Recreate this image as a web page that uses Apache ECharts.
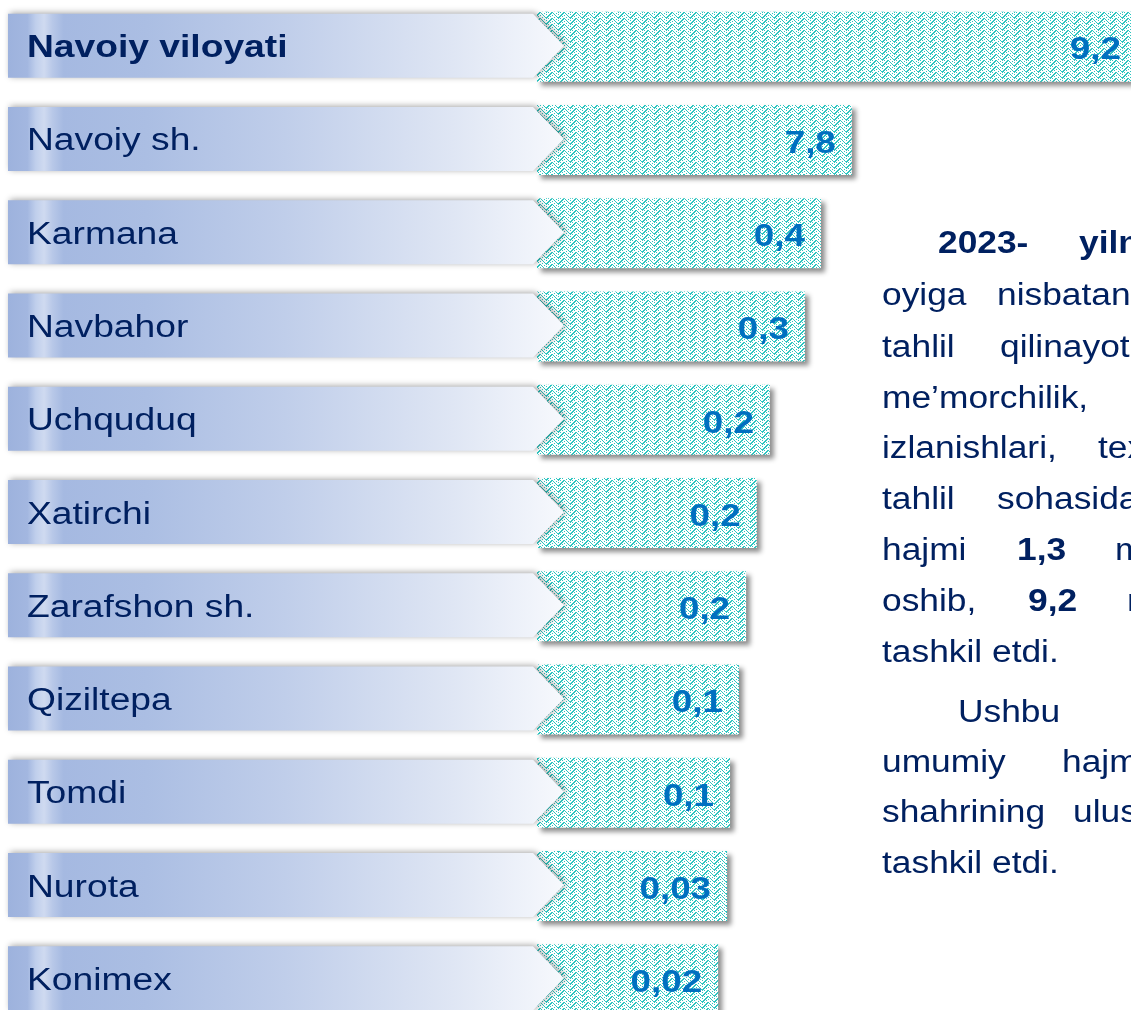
<!DOCTYPE html>
<html>
<head>
<meta charset="utf-8">
<script src="https://cdn.jsdelivr.net/npm/echarts@6/dist/echarts.min.js"></script>
<style>
html, body { margin: 0; padding: 0; background: #fff; }
#chart { width: 1131px; height: 1010px; }
</style>
</head>
<body>
<div id="chart"></div>
<script>
// hududlar va qiymatlar (mlrd so'm)
var regions = ['Navoiy viloyati', 'Navoiy sh.', 'Karmana', 'Navbahor', 'Uchquduq', 'Xatirchi',
               'Zarafshon sh.', 'Qiziltepa', 'Tomdi', 'Nurota', 'Konimex'];
var values = [9.2, 7.8, 0.4, 0.3, 0.2, 0.2, 0.2, 0.1, 0.1, 0.03, 0.02];
// slayddagi ustun uzunligi (rasm masshtabsiz chizilgan), 0..100 shkalada
var barLen = [101, 53, 47.8, 45.1, 39.2, 37, 35.2, 34, 32.5, 32, 30.5];

var NAVY = '#002060';
var FONT = '"Liberation Sans", Arial, sans-serif';

function fmt(v) {
  return String(v).replace('.', ',');
}

// zigzag naqsh
function makeHatch() {
  var n = 12;
  var c = document.createElement('canvas');
  c.width = n; c.height = n;
  var ctx = c.getContext('2d');
  ctx.fillStyle = '#fff';
  ctx.fillRect(0, 0, n, n);
  ctx.fillStyle = '#2ec5c0';
  for (var x = 0; x < n; x++) {
    var t = x < 6 ? x : 11 - x;
    for (var y = 0; y < n; y++) {
      var d = ((y - t) % 6 + 6) % 6;
      if (d === 0 || (d === 1 && (x + y) % 2 === 0) || (d === 3 && x % 2 === 0)) ctx.fillRect(x, y, 1, 1);
    }
  }
  return c;
}

var panelFill = new echarts.graphic.LinearGradient(0, 0, 1, 0, [
  { offset: 0, color: '#9db2dd' },
  { offset: 0.035, color: '#a3b7e0' },
  { offset: 0.05, color: '#c0cfec' },
  { offset: 0.065, color: '#cfdaf0' },
  { offset: 0.08, color: '#b8c8e8' },
  { offset: 0.1, color: '#a5b9e1' },
  { offset: 0.25, color: '#abbee3' },
  { offset: 0.5, color: '#c0ceea' },
  { offset: 0.8, color: '#dfe6f4' },
  { offset: 1, color: '#f7f9fd' }
]);

// o'ng tomondagi matn (kesilgan)
var para = [
  [253, [['2023-', 938, 1], ['yilning', 1079, 1]]],
  [305, [['oyiga', 882], ['nisbatan', 997]]],
  [357, [['tahlil', 882], ['qilinayotgan', 1000]]],
  [408, [['me\u2019morchilik,', 882]]],
  [458, [['izlanishlari,', 882], ['texnik', 1098]]],
  [509, [['tahlil', 882], ['sohasida', 997]]],
  [560, [['hajmi', 882], ['1,3', 1017, 1], ['mlrd', 1115]]],
  [611, [['oshib,', 882], ['9,2', 1028, 1], ['mlrd', 1127]]],
  [662, [['tashkil etdi.', 882]]],
  [722, [['Ushbu', 958]]],
  [772, [['umumiy', 882], ['hajmida', 1062]]],
  [822, [['shahrining', 882], ['ulushi', 1073]]],
  [873, [['tashkil etdi.', 882]]]
];
var textEls = [];
para.forEach(function (line) {
  line[1].forEach(function (w) {
    textEls.push({
      type: 'text', x: w[1], y: line[0] - 9, scaleX: 1.14,
      style: {
        text: w[0], x: 0, y: 0, fill: NAVY, verticalAlign: 'middle',
        font: (w[2] ? 'bold ' : '') + '31px ' + FONT
      }
    });
  });
});

var chart = echarts.init(document.getElementById('chart'));
var option = {
  animation: false,
  grid: { left: 537, right: 0, top: 0, height: 1026, outerBoundsMode: 'none' },
  xAxis: { type: 'value', min: 0, max: 100, show: false },
  yAxis: { type: 'category', data: regions, inverse: true, show: false },
  graphic: textEls,
  series: [
    {
      type: 'bar',
      data: barLen,
      barWidth: 70,
      silent: true,
      z: 2,
      itemStyle: {
        color: { image: makeHatch(), repeat: 'repeat' },
        shadowBlur: 5,
        shadowColor: 'rgba(0,0,0,0.45)',
        shadowOffsetX: 4,
        shadowOffsetY: 4
      }
    },
    {
      type: 'custom',
      z: 3,
      silent: true,
      data: barLen.map(function (v, i) { return [v, i]; }),
      encode: { x: 0, y: 1 },
      renderItem: function (params, api) {
        var i = params.dataIndex;
        var p0 = api.coord([0, i]);
        var p1 = api.coord([api.value(0), i]);
        var cy = p0[1] - 1, x0 = p0[0], h = 32;
        return {
          type: 'group',
          children: [
            {
              type: 'polygon',
              shape: { points: [[x0 - 529, cy - h], [x0 - 4, cy - h], [x0 + 27, cy], [x0 - 4, cy + h], [x0 - 529, cy + h]] },
              style: { fill: panelFill, shadowBlur: 6, shadowColor: 'rgba(0,0,0,0.35)', shadowOffsetX: 2, shadowOffsetY: -1 }
            },
            {
              type: 'text', x: x0 - 510, y: cy + 3, scaleX: 1.2,
              style: {
                text: regions[i], x: 0, y: 0, fill: NAVY, verticalAlign: 'middle',
                font: (i === 0 ? 'bold ' : '') + '31px ' + FONT
              }
            },
            {
              type: 'text', x: p1[0] - 16, y: cy + 5, scaleX: 1.15,
              style: {
                text: fmt(values[i]), x: 0, y: 0, fill: '#0070c0', align: 'right', verticalAlign: 'middle',
                font: 'bold 32px ' + FONT, shadowBlur: 8, shadowColor: '#ffffff'
              }
            }
          ]
        };
      }
    }
  ]
};
chart.setOption(option);
window.onresize = function () { chart.resize(); };
</script>
</body>
</html>
